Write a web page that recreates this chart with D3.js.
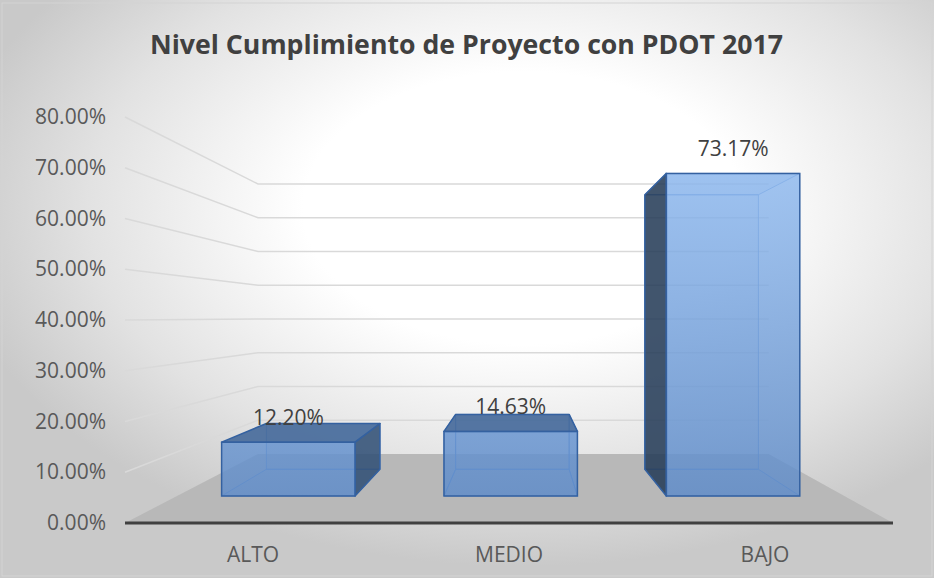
<!DOCTYPE html>
<html>
<head>
<meta charset="utf-8">
<script src="https://cdn.jsdelivr.net/npm/d3@7"></script>
<style>
  html, body { margin: 0; padding: 0; background: #fff; }
  svg { display: block; }
  text { font-family: "Open Sans", "DejaVu Sans", sans-serif; }
</style>
</head>
<body>
<div id="vis"></div>
<script>

var categories = ["ALTO", "MEDIO", "BAJO"];
var values     = [0.1220, 0.1463, 0.7317];
var yTicks     = [0, 0.1, 0.2, 0.3, 0.4, 0.5, 0.6, 0.7, 0.8];
var title      = "Nivel Cumplimiento de Proyecto con PDOT 2017";

var width  = 934;
var height = 578;

// vanishing point + depth factor of the fake 3d box
var vx = 522, vy = 317;
var k  = 0.504;
var zFront = 0.3, zBack = 0.7;

var x = d3.scaleBand()
  .domain(categories)
  .range([125, 893])
  .paddingInner(0.4)
  .paddingOuter(0.2);

var y = d3.scaleLinear().domain([0, 0.8]).range([523, 117]);

var fmt = d3.format(".2%");

function proj(px, py, z) {
  var s = 1 / (1 + k * z);
  return [vx + (px - vx) * s, vy + (py - vy) * s];
}

var line = d3.line();

var svg = d3.select("#vis").append("svg")
  .attr("width", width)
  .attr("height", height);

var defs = svg.append("defs");

var bg = defs.append("radialGradient")
  .attr("id", "bg")
  .attr("cx", 0.56).attr("cy", 0.36).attr("r", 0.62);
bg.append("stop").attr("offset", "0").attr("stop-color", "#ffffff");
bg.append("stop").attr("offset", "0.38").attr("stop-color", "#ffffff");
bg.append("stop").attr("offset", "0.75").attr("stop-color", "#e2e2e2");
bg.append("stop").attr("offset", "1").attr("stop-color", "#c9c9c9");

var front = defs.append("linearGradient")
  .attr("id", "front")
  .attr("gradientUnits", "userSpaceOnUse")
  .attr("x1", 0).attr("y1", 170).attr("x2", 0).attr("y2", 500);
front.append("stop").attr("offset", "0").attr("stop-color", "#8db8ee");
front.append("stop").attr("offset", "1").attr("stop-color", "#5e8bc8");

svg.append("rect")
  .attr("width", width)
  .attr("height", height)
  .attr("fill", "url(#bg)");

svg.append("rect")
  .attr("x", 2).attr("y", 3)
  .attr("width", width - 4).attr("height", height - 5)
  .attr("fill", "none")
  .attr("stroke", "#d4d4d4");

// title
svg.append("text")
  .attr("x", 466.5)
  .attr("y", 54)
  .attr("text-anchor", "middle")
  .attr("font-size", 27)
  .attr("font-weight", "bold")
  .attr("fill", "#404040")
  .attr("textLength", 633)
  .attr("lengthAdjust", "spacingAndGlyphs")
  .text(title);

var x0 = x.range()[0], x1 = x.range()[1];

// floor
svg.append("path")
  .attr("d", line([proj(x0, y(0), 0), proj(x1, y(0), 0), proj(x1, y(0), 1), proj(x0, y(0), 1)]) + "Z")
  .attr("fill", "#b8b8b8");

// gridlines: side wall + back wall
svg.append("g").selectAll("path")
  .data(yTicks.filter(function(t) { return t > 0; }))
  .enter().append("path")
  .attr("d", function(t) {
    return line([proj(x0, y(t), 0), proj(x0, y(t), 1), proj(x1, y(t), 1)]);
  })
  .attr("fill", "none")
  .attr("stroke", "#d9d9d9")
  .attr("stroke-width", 1.5);

// y labels
svg.append("g").selectAll("text")
  .data(yTicks)
  .enter().append("text")
  .attr("x", 106)
  .attr("y", function(t) { return y(t) + 7; })
  .attr("text-anchor", "end")
  .attr("font-size", 21)
  .attr("fill", "#595959")
  .text(function(t) { return fmt(t); });

// bars
var data = categories.map(function(c, i) { return { cat: c, value: values[i] }; });

var bars = svg.append("g").selectAll("g")
  .data(data)
  .enter().append("g");

bars.each(function(d) {
  var g  = d3.select(this);
  var l  = x(d.cat), r = l + x.bandwidth();
  var t  = y(d.value), b = y(0);
  var P  = function(px, py, z) { return proj(px, py, z); };

  var backFace   = [P(l, t, zBack), P(r, t, zBack), P(r, b, zBack), P(l, b, zBack)];
  var bottomFace = [P(l, b, zFront), P(r, b, zFront), P(r, b, zBack), P(l, b, zBack)];
  var leftFace   = [P(l, t, zFront), P(l, t, zBack), P(l, b, zBack), P(l, b, zFront)];
  var rightFace  = [P(r, t, zFront), P(r, t, zBack), P(r, b, zBack), P(r, b, zFront)];
  var topFace    = [P(l, t, zFront), P(r, t, zFront), P(r, t, zBack), P(l, t, zBack)];
  var frontFace  = [P(l, t, zFront), P(r, t, zFront), P(r, b, zFront), P(l, b, zFront)];

  var hidden = [backFace, bottomFace];
  var shown  = [];
  if (r < vx) shown.push({ pts: rightFace, fill: "#2f4d73", op: 0.85 });
  else if (l > vx) shown.push({ pts: leftFace, fill: "#233a55", op: 0.85 });
  else { hidden.push(leftFace); hidden.push(rightFace); }
  if (t > vy) shown.push({ pts: topFace, fill: "#45699a", op: 0.9 });
  else hidden.push(topFace);

  // faces behind, seen through the glass
  g.selectAll("path.hid")
    .data(hidden)
    .enter().append("path")
    .attr("class", "hid")
    .attr("d", function(p) { return line(p) + "Z"; })
    .attr("fill", "#6f9ad6")
    .attr("fill-opacity", 0.15)
    .attr("stroke", "#5a8ad0")
    .attr("stroke-opacity", 0.8)
    .attr("stroke-width", 1);

  g.selectAll("path.vis")
    .data(shown)
    .enter().append("path")
    .attr("class", "vis")
    .attr("d", function(p) { return line(p.pts) + "Z"; })
    .attr("fill", function(p) { return p.fill; })
    .attr("fill-opacity", function(p) { return p.op; })
    .attr("stroke", "#3461a0")
    .attr("stroke-width", 1.5)
    .attr("stroke-linejoin", "round");

  g.append("path")
    .attr("d", line(frontFace) + "Z")
    .attr("fill", "url(#front)")
    .attr("fill-opacity", 0.82)
    .attr("stroke", "#3461a0")
    .attr("stroke-width", 1.5);

  var lab = P(l + x.bandwidth() / 2, t, zFront);
  g.append("text")
    .attr("x", lab[0])
    .attr("y", lab[1] - 17)
    .attr("text-anchor", "middle")
    .attr("font-size", 21)
    .attr("fill", "#404040")
    .text(fmt(d.value));
});

// axis line
svg.append("line")
  .attr("x1", x0).attr("x2", x1)
  .attr("y1", y(0)).attr("y2", y(0))
  .attr("stroke", "#404040")
  .attr("stroke-width", 3);

// category labels
svg.append("g").selectAll("text")
  .data(categories)
  .enter().append("text")
  .attr("x", function(c) { return x(c) + x.bandwidth() / 2; })
  .attr("y", 562)
  .attr("text-anchor", "middle")
  .attr("font-size", 21)
  .attr("fill", "#595959")
  .text(function(c) { return c; });

</script>
</body>
</html>
